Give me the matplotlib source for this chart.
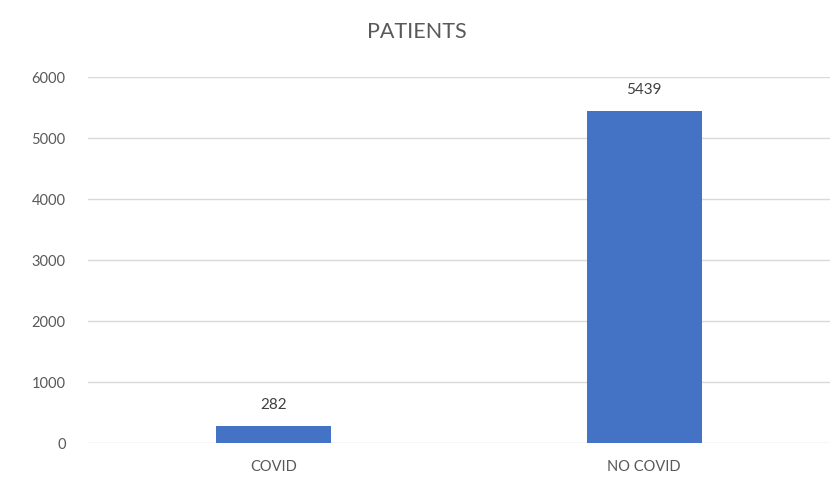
import matplotlib
matplotlib.use("Agg")
import matplotlib.pyplot as plt

categories = ["COVID", "NO COVID"]
patients = [282, 5439]
y_ticks = [0, 1000, 2000, 3000, 4000, 5000, 6000]

plt.rcParams['font.family'] = ['Lato', 'DejaVu Sans']

fig = plt.figure(figsize=(8.33, 4.93), dpi=100)
ax = fig.add_axes([0.1056, 0.1014, 0.8904, 0.7424])

x = range(len(categories))
bars = ax.bar(x, patients, width=0.31, color="#4472C4", zorder=3)

ax.set_xlim(-0.5, len(categories) - 0.5)
ax.set_ylim(0, 6000)
ax.set_yticks(y_ticks)
ax.set_yticklabels([str(v) for v in y_ticks])
ax.set_xticks(list(x))
ax.set_xticklabels(categories)

ax.grid(axis="y", color="#D9D9D9", linewidth=1, zorder=0)
for s in ax.spines.values():
    s.set_visible(False)
ax.tick_params(axis="both", length=0, colors="#595959", labelsize=10.5)
ax.tick_params(axis="y", pad=16)
ax.tick_params(axis="x", pad=12)

for b, v in zip(bars, patients):
    ax.annotate(str(v), (b.get_x() + b.get_width() / 2, v),
                xytext=(0, 10), textcoords="offset points",
                ha="center", va="bottom", fontsize=11, color="#404040")

fig.text(0.5, 0.935, "PATIENTS", ha="center", va="center",
         fontsize=15.5, color="#595959")

fig.savefig("out.png", dpi=100)
